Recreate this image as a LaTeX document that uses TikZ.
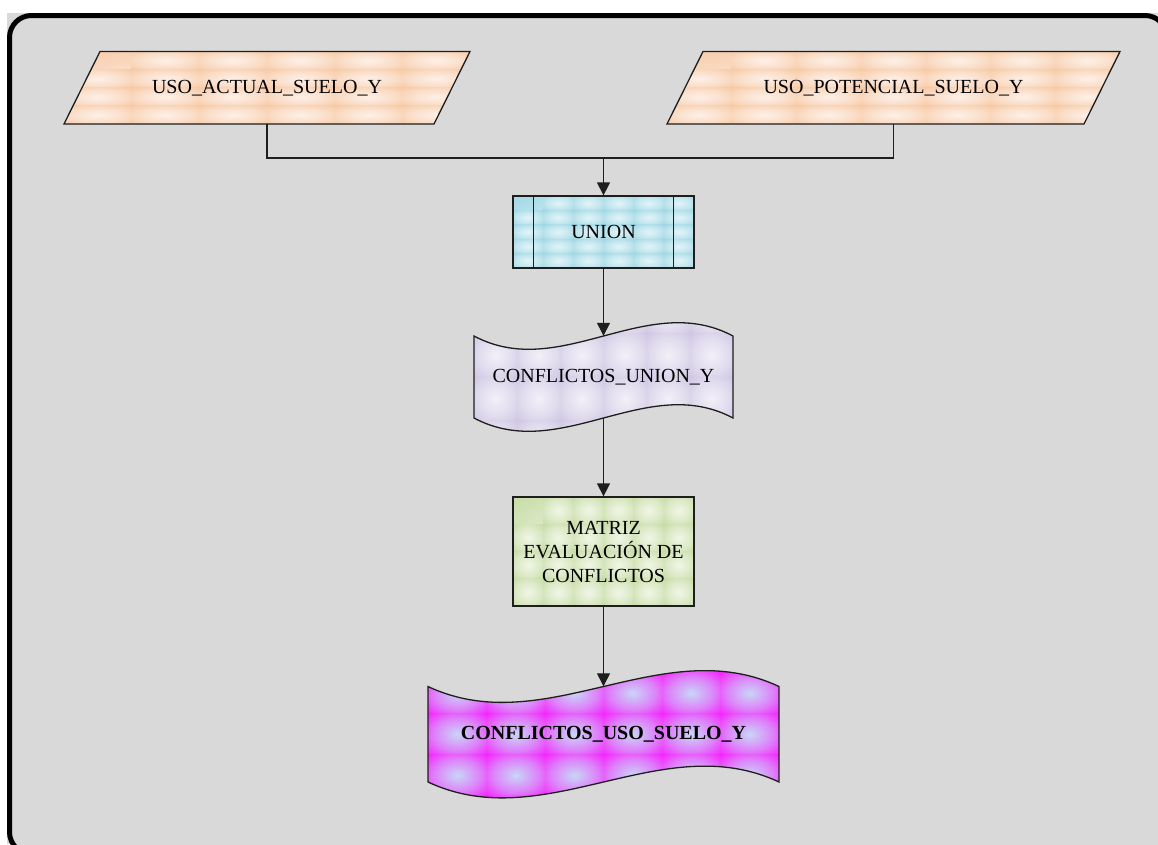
\documentclass[tikz,border=0pt]{standalone}
\usepackage{fontspec}
\setmainfont{Liberation Serif}
\usetikzlibrary{arrows.meta}

\definecolor{panel}{RGB}{217,217,217}
\definecolor{ink}{RGB}{30,30,30}
\definecolor{peachbase}{RGB}{246,194,152}
\definecolor{peachlight}{RGB}{253,240,232}
\definecolor{bluebase}{RGB}{146,209,224}
\definecolor{bluelight}{RGB}{226,244,248}
\definecolor{lilacbase}{RGB}{200,190,223}
\definecolor{lilaclight}{RGB}{242,240,248}
\definecolor{greenbase}{RGB}{190,214,152}
\definecolor{greenlight}{RGB}{240,246,230}
\definecolor{magbase}{RGB}{255,0,255}
\definecolor{maglight}{RGB}{200,214,246}

% tile shading: light centre fading to the edge colour
\colorlet{tilebase}{peachbase}
\colorlet{tilelight}{peachlight}
\pgfdeclareradialshading[tilebase,tilelight]{tileglow}{\pgfpoint{0bp}{0bp}}%
  {color(0bp)=(tilelight); color(20bp)=(tilelight!60!tilebase); color(42bp)=(tilebase); color(50bp)=(tilebase)}

% fill the current path with a grid of shaded tiles (columns, rows, edge, centre)
\newcommand\tiles[4]{%
  \colorlet{tilebase}{#3}\colorlet{tilelight}{#4}%
  \pgfpointanchor{path picture bounding box}{north west}\pgfgetlastxy{\tlx}{\tly}%
  \pgfpointanchor{path picture bounding box}{south east}\pgfgetlastxy{\brx}{\bry}%
  \pgfmathsetmacro\tw{(\brx-\tlx)/#1}%
  \pgfmathsetmacro\th{(\tly-\bry)/#2}%
  \foreach \i in {1,...,#1}{\foreach \j in {1,...,#2}{%
    \pgfmathsetmacro\tx{\tlx+(\i-1)*\tw}%
    \pgfmathsetmacro\ty{\tly-(\j-1)*\th}%
    \shade[shading=tileglow] (\tx pt,\ty pt) rectangle ++(\tw pt,-\th pt);
  }}%
}

\tikzset{
  outline/.style={draw=ink, line width=1.3pt},
  labeltext/.style={font=\fontsize{20}{24}\selectfont, text=black, inner sep=0pt, align=center},
  anchorbox/.style={labeltext, draw=none},
  wire/.style={draw=ink, line width=1.3pt},
  arrow/.style={wire, -{Triangle[length=13pt,width=13pt]}},
}

\begin{document}
\begin{tikzpicture}[x=1pt,y=-1pt]
\useasboundingbox (0,0) rectangle (1158,844);
\clip (0,0) rectangle (1158,844);

% panel, running past the right and bottom edges
\fill[panel] (0,0) rectangle (1158,844);
\fill[white] (0,0) rectangle (1158,13);
\fill[white] (0,0) rectangle (7,844);
\draw[line width=5pt, fill=panel, rounded corners=22pt] (9.5,15.5) rectangle (1167,854);

% input layers
\path[outline, path picture={\tiles{6}{4}{peachbase}{peachlight}}]
  (64,124) -- (100,51.5) -- (470,51.5) -- (434,124) -- cycle;
\path[outline, path picture={\tiles{7}{4}{peachbase}{peachlight}}]
  (667,124) -- (703,51.5) -- (1120,51.5) -- (1084,124) -- cycle;
\node[anchorbox, minimum width=406, minimum height=72.5] (act) at (267,87.75) {USO\_ACTUAL\_SUELO\_Y};
\node[anchorbox, minimum width=453, minimum height=72.5] (pot) at (893.5,87.75) {USO\_POTENCIAL\_SUELO\_Y};

% union process
\node[outline, labeltext, minimum width=181, minimum height=72,
      path picture={\tiles{6}{5}{bluebase}{bluelight}}] (union) at (603.5,232) {UNION};
\draw[outline] ([xshift=21pt]union.north west) -- ([xshift=21pt]union.south west);
\draw[outline] ([xshift=-21pt]union.north east) -- ([xshift=-21pt]union.south east);

% intermediate layer
\path[outline, path picture={\tiles{6}{4}{lilacbase}{lilaclight}}]
  (474,336) .. controls (560.3,382) and (646.7,290) .. (733,336)
  -- (733,418) .. controls (646.7,372) and (560.3,464) .. (474,418) -- cycle;
\node[anchorbox, minimum width=259, minimum height=82] (cu) at (603.5,377) {CONFLICTOS\_UNION\_Y};

% evaluation matrix
\node[outline, labeltext, minimum width=181, minimum height=109,
      path picture={\tiles{6}{4}{greenbase}{greenlight}}] (matriz) at (603.5,551.5)
  {MATRIZ\\EVALUACIÓN DE\\CONFLICTOS};

% result layer
\path[outline, path picture={\tiles{6}{5}{magbase}{maglight}}]
  (428,686.5) .. controls (545,741.5) and (662,631.5) .. (779,686.5)
  -- (779,782) .. controls (662,727) and (545,837) .. (428,782) -- cycle;
\node[anchorbox, minimum width=351, minimum height=95.5, font=\fontsize{20}{24}\selectfont\bfseries]
  (cus) at (603.5,734.25) {CONFLICTOS\_USO\_SUELO\_Y};

% connectors
\coordinate (join) at (603.5,158);
\draw[wire] (act.south) |- (join) -| (pot.south);
\draw[arrow] (join) -- (union.north);
\draw[arrow] (union.south) -- (cu.north);
\draw[arrow] (cu.south) -- (matriz.north);
\draw[arrow] (matriz.south) -- (cus.north);
\end{tikzpicture}
\end{document}
